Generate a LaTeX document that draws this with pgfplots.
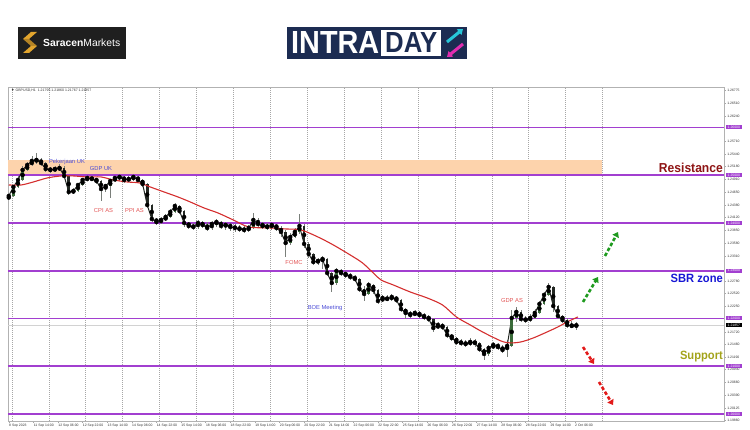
\documentclass[border=0pt]{standalone}
\usepackage{fontspec}
\setmainfont{Liberation Sans}
\usepackage{graphicx}
\usepackage{pgfplots}
\pgfplotsset{compat=1.18}
\usepackage{pgfplotstable}
\usetikzlibrary{arrows.meta}
\definecolor{lvl}{HTML}{A23FD0}
\definecolor{band}{HTML}{FDD3AC}
\definecolor{ma}{HTML}{D42E2E}
\definecolor{upc}{HTML}{3A6B3A}
\definecolor{dnc}{HTML}{232823}
\definecolor{wick}{HTML}{7A7F7A}
\definecolor{evblue}{HTML}{4B4BD6}
\definecolor{evred}{HTML}{E25555}
\definecolor{resred}{HTML}{8E1414}
\definecolor{sbrblue}{HTML}{1717D4}
\definecolor{supol}{HTML}{A3A31A}
\definecolor{navy}{HTML}{1C2C52}
\definecolor{gold}{HTML}{E2A52E}
\definecolor{arrg}{HTML}{1E9A1E}
\definecolor{arrr}{HTML}{E21A1A}
\definecolor{cyanic}{HTML}{27C6D8}
\definecolor{magic}{HTML}{E02DB0}

\pgfplotstableread{
x o h l c
0 1.24503 1.24608 1.24482 1.24566
3 1.24566 1.24796 1.24545 1.24754
6 1.24754 1.24985 1.24733 1.24901
9 1.24901 1.25194 1.24880 1.25110
12 1.25110 1.25278 1.25089 1.25215
15 1.25215 1.25403 1.25194 1.25299
18 1.25299 1.25466 1.25236 1.25320
21 1.25320 1.25361 1.25194 1.25257
24 1.25257 1.25278 1.25068 1.25131
27 1.25131 1.25173 1.25047 1.25110
30 1.25110 1.25194 1.25068 1.25131
33 1.25131 1.25236 1.25089 1.25152
36 1.25152 1.25194 1.24943 1.24985
39 1.24985 1.25006 1.24587 1.24649
42 1.24649 1.24733 1.24608 1.24670
45 1.24670 1.24838 1.24649 1.24796
48 1.24796 1.24943 1.24775 1.24901
51 1.24901 1.24985 1.24880 1.24943
54 1.24943 1.24985 1.24880 1.24922
57 1.24922 1.24943 1.24817 1.24880
60 1.24880 1.24901 1.24461 1.24712
63 1.24712 1.24817 1.24649 1.24775
66 1.24775 1.24922 1.24524 1.24880
69 1.24880 1.24985 1.24859 1.24943
72 1.24943 1.25006 1.24880 1.24964
75 1.24964 1.24985 1.24838 1.24901
78 1.24901 1.24985 1.24859 1.24922
81 1.24922 1.25006 1.24880 1.24964
84 1.24964 1.24985 1.24859 1.24901
87 1.24901 1.24922 1.24754 1.24817
90 1.24817 1.24838 1.24314 1.24377
93 1.24377 1.24398 1.24021 1.24084
96 1.24084 1.24105 1.23959 1.24021
99 1.24021 1.24126 1.23979 1.24063
102 1.24063 1.24189 1.24042 1.24126
105 1.24126 1.24293 1.24105 1.24231
108 1.24231 1.24419 1.24210 1.24356
111 1.24356 1.24377 1.24189 1.24252
114 1.24252 1.24273 1.23917 1.24000
117 1.24000 1.24021 1.23875 1.23938
120 1.23938 1.24000 1.23854 1.23917
123 1.23917 1.24063 1.23875 1.24000
126 1.24000 1.24042 1.23896 1.23959
129 1.23959 1.24021 1.23833 1.23896
132 1.23896 1.24042 1.23854 1.23979
135 1.23979 1.24084 1.23917 1.24021
138 1.24021 1.24042 1.23875 1.23938
141 1.23938 1.24021 1.23854 1.23959
144 1.23959 1.24000 1.23833 1.23917
147 1.23917 1.23979 1.23812 1.23896
150 1.23896 1.23959 1.23812 1.23875
153 1.23875 1.23938 1.23791 1.23854
156 1.23854 1.23959 1.23812 1.23896
159 1.23896 1.24210 1.23875 1.24063
162 1.24063 1.24105 1.23896 1.23979
165 1.23979 1.24021 1.23875 1.23938
168 1.23938 1.24000 1.23854 1.23917
171 1.23917 1.24000 1.23854 1.23959
174 1.23959 1.23979 1.23833 1.23896
177 1.23896 1.23938 1.23707 1.23812
180 1.23812 1.23854 1.23288 1.23581
183 1.23581 1.23791 1.23540 1.23707
186 1.23707 1.23896 1.23686 1.23812
189 1.23812 1.24189 1.23770 1.23938
192 1.23938 1.23979 1.23477 1.23561
195 1.23561 1.23602 1.23267 1.23351
198 1.23351 1.23372 1.23121 1.23184
201 1.23184 1.23267 1.23121 1.23205
204 1.23205 1.23309 1.23037 1.23246
207 1.23246 1.23267 1.22891 1.22953
210 1.22953 1.22974 1.22555 1.22744
213 1.22744 1.23058 1.22702 1.22995
216 1.22995 1.23037 1.22891 1.22953
219 1.22953 1.22995 1.22849 1.22912
222 1.22912 1.22953 1.22807 1.22870
225 1.22870 1.22912 1.22765 1.22828
228 1.22828 1.22849 1.22555 1.22618
231 1.22618 1.22681 1.22367 1.22514
234 1.22514 1.22765 1.22493 1.22702
237 1.22702 1.22723 1.22514 1.22597
240 1.22597 1.22618 1.22304 1.22367
243 1.22367 1.22493 1.22346 1.22430
246 1.22430 1.22493 1.22367 1.22409
249 1.22409 1.22514 1.22367 1.22451
252 1.22451 1.22472 1.22325 1.22388
255 1.22388 1.22409 1.22137 1.22199
258 1.22199 1.22220 1.21990 1.22116
261 1.22116 1.22158 1.22011 1.22074
264 1.22074 1.22179 1.22053 1.22116
267 1.22116 1.22158 1.22011 1.22074
270 1.22074 1.22116 1.21969 1.22032
273 1.22032 1.22074 1.21927 1.21990
276 1.21990 1.22011 1.21718 1.21802
279 1.21802 1.21927 1.21781 1.21865
282 1.21865 1.21906 1.21760 1.21823
285 1.21823 1.21844 1.21592 1.21655
288 1.21655 1.21676 1.21529 1.21592
291 1.21592 1.21613 1.21446 1.21509
294 1.21509 1.21571 1.21425 1.21488
297 1.21488 1.21550 1.21404 1.21467
300 1.21467 1.21592 1.21425 1.21509
303 1.21509 1.21571 1.21404 1.21488
306 1.21488 1.21509 1.21299 1.21362
309 1.21362 1.21383 1.21131 1.21257
312 1.21257 1.21446 1.21215 1.21383
315 1.21383 1.21509 1.21362 1.21446
318 1.21446 1.21488 1.21341 1.21404
321 1.21404 1.21446 1.21278 1.21341
324 1.21341 1.21550 1.21194 1.21425
327 1.21425 1.22179 1.21404 1.22011
330 1.22011 1.22241 1.21927 1.22137
333 1.22137 1.22179 1.21927 1.21990
336 1.21990 1.22053 1.21906 1.21969
339 1.21969 1.22095 1.21927 1.22011
342 1.22011 1.22199 1.21990 1.22116
345 1.22116 1.22367 1.22095 1.22304
348 1.22304 1.22555 1.22283 1.22493
351 1.22493 1.22744 1.22472 1.22660
354 1.22660 1.22681 1.22137 1.22262
357 1.22262 1.22283 1.21990 1.22053
360 1.22053 1.22074 1.21906 1.21969
363 1.21969 1.22011 1.21802 1.21865
366 1.21865 1.21948 1.21802 1.21844
369 1.21844 1.21927 1.21760 1.21857
}\candles

\begin{document}
\begin{tikzpicture}[x=1pt,y=1pt]
\useasboundingbox (0,0) rectangle (750,430);
% logos
\fill[black!88] (18,371) rectangle (126,403);
\fill[gold] (23,391) -- (31,398) -- (37,398) -- (29,391) -- cycle;
\fill[gold!80!black] (23,391) -- (29,391) -- (37,384) -- (31,384) -- cycle;
\fill[gold] (31,384) -- (37,384) -- (29,377) -- (23,377) -- cycle;
\node[anchor=west, text=white, inner sep=0pt] at (43,387.5) {\resizebox{77pt}{!}{\textbf{Saracen}Markets}};
\fill[navy] (287,371) rectangle (467,403);
\node[anchor=south west, inner sep=0pt, text=white] at (291,376) {\resizebox{88pt}{22pt}{\bfseries INTRA}};
\fill[white] (381,374) rectangle (441,400);
\node[anchor=south west, inner sep=0pt, text=navy] at (385,377) {\resizebox{52pt}{20pt}{\bfseries DAY}};
\draw[cyanic, line width=3pt, -{Triangle[length=5pt,width=7pt]}] (447,388) -- (463,401);
\draw[magic, line width=3pt, -{Triangle[length=5pt,width=7pt]}] (463,386) -- (447,373);

\begin{axis}[
  at={(8pt,9pt)}, anchor=south west, scale only axis,
  width=716pt, height=334pt,
  xmin=-0.5, xmax=465, ymin=1.19853, ymax=1.26848,
  clip=false,
  axis line style={gray!60, line width=0.6pt},
  tick style={gray!70, line width=0.4pt},
  major tick length=2pt, tick align=outside,
  xtick pos=bottom, ytick pos=right, yticklabel pos=right,
  xtick={0,16,...,368},
  xticklabels={8 Sep 2023, 11 Sep 14:00, 12 Sep 06:00, 12 Sep 22:00, 13 Sep 14:00, 14 Sep 06:00, 14 Sep 22:00, 15 Sep 14:00, 18 Sep 06:00, 18 Sep 22:00, 19 Sep 14:00, 20 Sep 06:00, 20 Sep 22:00, 21 Sep 14:00, 22 Sep 06:00, 22 Sep 22:00, 25 Sep 14:00, 26 Sep 06:00, 26 Sep 22:00, 27 Sep 14:00, 28 Sep 06:00, 28 Sep 22:00, 29 Sep 14:00, 2 Oct 06:00},
  xticklabel style={font=\fontsize{3.4}{3.6}\selectfont, anchor=north west, inner sep=0.6pt, xshift=-0.4pt, text=black!80},
  extra x ticks={2,26,...,386},
  extra x tick labels={},
  extra x tick style={grid=major, major tick length=0pt},
  major grid style={gray!70, dash pattern=on 1pt off 1pt, line width=0.45pt},
  ytick={1.19860,1.20125,1.20390,1.20660,1.20930,1.21190,1.21460,1.21720,1.22250,1.22520,1.22780,1.23310,1.23580,1.23850,1.24120,1.24380,1.24650,1.24910,1.25180,1.25440,1.25710,1.26240,1.26510,1.26775},
  yticklabels={1.19860,1.20125,1.20390,1.20660,1.20930,1.21190,1.21460,1.21720,1.22250,1.22520,1.22780,1.23310,1.23580,1.23850,1.24120,1.24380,1.24650,1.24910,1.25180,1.25440,1.25710,1.26240,1.26510,1.26775},
  yticklabel style={font=\fontsize{3.4}{3.6}\selectfont, anchor=west, inner sep=0.6pt, xshift=0.5pt, text=black!80},
  scaled y ticks=false,
]
\fill[band] (axis cs:-0.5,1.25) rectangle (axis cs:386,1.2532);
\addplot[gray!35, line width=0.4pt, forget plot] coordinates {(-0.5,1.21857) (465,1.21857)};
\addplot[lvl, line width=1.8pt, forget plot] coordinates {(-0.5,1.20) (465,1.20)};
\addplot[lvl, line width=1.8pt, forget plot] coordinates {(-0.5,1.21) (465,1.21)};
\addplot[lvl, line width=1.8pt, forget plot] coordinates {(-0.5,1.22) (465,1.22)};
\addplot[lvl, line width=1.8pt, forget plot] coordinates {(-0.5,1.23) (465,1.23)};
\addplot[lvl, line width=1.8pt, forget plot] coordinates {(-0.5,1.24) (465,1.24)};
\addplot[lvl, line width=1.8pt, forget plot] coordinates {(-0.5,1.25) (465,1.25)};
\addplot[lvl, line width=1.8pt, forget plot] coordinates {(-0.5,1.26) (465,1.26)};
% wicks
\addplot[only marks, mark=none, forget plot, error bars/.cd, y dir=both, y explicit, error mark=none, error bar style={wick, line width=0.6pt}]
  table[x=x, y=c, y error plus expr={\thisrow{h}-\thisrow{c}}, y error minus expr={\thisrow{c}-\thisrow{l}}] {\candles};
% close path
\addplot[dnc, line width=1.0pt, forget plot] table[x=x, y=c] {\candles};
% up bodies
\addplot[only marks, mark=none, forget plot, restrict expr to domain={\thisrow{c}-\thisrow{o}}{0:1}, error bars/.cd, y dir=both, y explicit, error mark=none, error bar style={upc, line width=2.6pt}]
  table[x=x, y expr={(\thisrow{o}+\thisrow{c})/2}, y error expr={abs(\thisrow{c}-\thisrow{o})/2}] {\candles};
% down bodies
\addplot[only marks, mark=none, forget plot, restrict expr to domain={\thisrow{c}-\thisrow{o}}{-1:0}, error bars/.cd, y dir=both, y explicit, error mark=none, error bar style={dnc, line width=2.6pt}]
  table[x=x, y expr={(\thisrow{o}+\thisrow{c})/2}, y error expr={abs(\thisrow{c}-\thisrow{o})/2}] {\candles};
% moving average
\addplot[ma, line width=1.1pt, smooth, forget plot] coordinates {
(0,1.24796) (8,1.24796) (16,1.24859) (25,1.24943) (34,1.24985) (42,1.24985) (51,1.24964) (60,1.24964) (68,1.24901) (77,1.24859) (85,1.24838) (92,1.24754) (101,1.24649) (110,1.24545) (118,1.24440) (127,1.24314) (136,1.24210) (146,1.24063) (156,1.23917) (170,1.23896) (180,1.23875) (190,1.23854) (201,1.23707) (211,1.23540) (222,1.23330) (230,1.23163) (237,1.22953) (242,1.22807) (250,1.22702) (261,1.22555) (272,1.22430) (282,1.22283) (291,1.22032) (300,1.21865) (308,1.21718) (320,1.21529) (326,1.21488) (333,1.21509) (341,1.21592) (350,1.21718) (357,1.21823) (363,1.21927) (370,1.22032)};
% right side level labels
\foreach \lv/\lab in {1.20/1.20000,1.21/1.21000,1.22/1.22000,1.23/1.23000,1.24/1.24000,1.25/1.25000,1.26/1.26000}{
  \edef\tmp{\noexpand\node[fill=lvl, text=white, font=\noexpand\fontsize{3.4}{3.6}\noexpand\selectfont, inner xsep=2pt, inner ysep=0.8pt, anchor=west, xshift=1.5pt] at (axis cs:465,\lv) {\lab};}\tmp
}
\node[fill=black, text=white, font=\fontsize{3.4}{3.6}\selectfont, inner xsep=2pt, inner ysep=0.8pt, anchor=west, xshift=1.5pt] at (axis cs:465,1.21857) {1.21857};
\end{axis}

% header and annotations
\node[anchor=west, font=\fontsize{3.5}{4}\selectfont, text=black!80, inner sep=0pt] at (11,339) {▼ GBPUSD,H1\ \ 1.21795 1.21860 1.21767 1.21857};
\begin{scope}[every node/.style={font=\fontsize{5.8}{6}\selectfont, inner sep=0pt}]
\node[text=evblue] at (67,268) {Pekerjaan UK};
\node[text=evblue] at (101,261) {GDP UK};
\node[text=evred] at (103.5,219) {CPI AS};
\node[text=evred] at (134.5,219) {PPI AS};
\node[text=evred] at (294,167) {FOMC};
\node[text=evblue] at (325,122) {BOE Meeting};
\node[text=evred] at (512,129) {GDP AS};
\end{scope}
\node[anchor=east, inner sep=0pt, text=resred, font=\fontsize{13}{13}\selectfont\bfseries, xscale=0.93] at (723,262) {Resistance};
\node[anchor=east, inner sep=0pt, text=sbrblue, font=\fontsize{12}{12}\selectfont\bfseries, xscale=0.93] at (723,152) {SBR zone};
\node[anchor=east, inner sep=0pt, text=supol, font=\fontsize{12}{12}\selectfont\bfseries, xscale=0.93] at (723,73) {Support};
% direction arrows
\begin{scope}[line width=2.6pt, dash pattern=on 3.5pt off 2.2pt]
\draw[arrg, -{Triangle[length=5pt,width=7pt]}] (583,128) -- (598,153);
\draw[arrg, -{Triangle[length=5pt,width=7pt]}] (605,174) -- (618,198);
\draw[arrr, -{Triangle[length=5pt,width=7pt]}] (583,83) -- (594,66);
\draw[arrr, -{Triangle[length=5pt,width=7pt]}] (599,48) -- (613,25);
\end{scope}
\end{tikzpicture}
\end{document}
